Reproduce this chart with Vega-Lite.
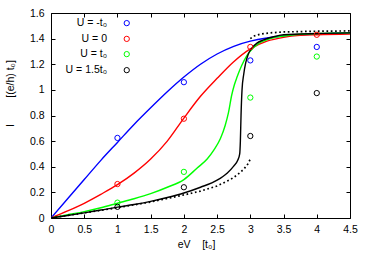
{
  "$schema": "https://vega.github.io/schema/vega-lite/v6.json",
  "width": 299,
  "height": 205,
  "autosize": {"type": "none"},
  "padding": {"left": 51, "top": 13, "right": 24, "bottom": 44},
  "config": {
    "view": {"stroke": "#000", "strokeWidth": 1},
    "font": "Liberation Sans",
    "axis": {
      "domain": false,
      "grid": false,
      "ticks": true,
      "tickSize": -4,
      "tickColor": "#000",
      "tickWidth": 1,
      "labelFont": "Liberation Sans",
      "labelFontSize": 10.5,
      "labelColor": "#000",
      "titleFont": "Liberation Sans",
      "titleFontSize": 10.5,
      "titleFontWeight": "normal",
      "titleColor": "#000",
      "labelFlush": false,
      "labelOverlap": false
    }
  },
  "datasets": {
    "lines": [
      {"s": "b", "x": 0, "y": 0}, {"s": "b", "x": 0.25, "y": 0.15}, {"s": "b", "x": 0.5, "y": 0.3}, {"s": "b", "x": 0.75, "y": 0.45}, {"s": "b", "x": 1, "y": 0.59}, {"s": "b", "x": 1.25, "y": 0.73}, {"s": "b", "x": 1.5, "y": 0.86}, {"s": "b", "x": 1.75, "y": 0.985}, {"s": "b", "x": 2, "y": 1.1}, {"s": "b", "x": 2.25, "y": 1.2}, {"s": "b", "x": 2.5, "y": 1.28}, {"s": "b", "x": 2.75, "y": 1.34}, {"s": "b", "x": 3, "y": 1.38}, {"s": "b", "x": 3.25, "y": 1.405}, {"s": "b", "x": 3.5, "y": 1.42}, {"s": "b", "x": 3.75, "y": 1.43}, {"s": "b", "x": 4, "y": 1.438}, {"s": "b", "x": 4.25, "y": 1.442}, {"s": "b", "x": 4.5, "y": 1.445},
      {"s": "r", "x": 0, "y": 0}, {"s": "r", "x": 0.25, "y": 0.055}, {"s": "r", "x": 0.5, "y": 0.115}, {"s": "r", "x": 0.75, "y": 0.185}, {"s": "r", "x": 1, "y": 0.26}, {"s": "r", "x": 1.25, "y": 0.35}, {"s": "r", "x": 1.5, "y": 0.46}, {"s": "r", "x": 1.75, "y": 0.6}, {"s": "r", "x": 2, "y": 0.78}, {"s": "r", "x": 2.25, "y": 0.95}, {"s": "r", "x": 2.5, "y": 1.09}, {"s": "r", "x": 2.75, "y": 1.22}, {"s": "r", "x": 3, "y": 1.32}, {"s": "r", "x": 3.25, "y": 1.38}, {"s": "r", "x": 3.5, "y": 1.41}, {"s": "r", "x": 3.75, "y": 1.425}, {"s": "r", "x": 4, "y": 1.43}, {"s": "r", "x": 4.5, "y": 1.435},
      {"s": "g", "x": 0, "y": 0}, {"s": "g", "x": 0.25, "y": 0.025}, {"s": "g", "x": 0.5, "y": 0.05}, {"s": "g", "x": 0.75, "y": 0.08}, {"s": "g", "x": 1, "y": 0.115}, {"s": "g", "x": 1.25, "y": 0.15}, {"s": "g", "x": 1.5, "y": 0.19}, {"s": "g", "x": 1.75, "y": 0.24}, {"s": "g", "x": 2, "y": 0.3}, {"s": "g", "x": 2.2, "y": 0.39}, {"s": "g", "x": 2.35, "y": 0.46}, {"s": "g", "x": 2.45, "y": 0.53}, {"s": "g", "x": 2.55, "y": 0.62}, {"s": "g", "x": 2.62, "y": 0.72}, {"s": "g", "x": 2.67, "y": 0.82}, {"s": "g", "x": 2.72, "y": 0.96}, {"s": "g", "x": 2.76, "y": 1.04}, {"s": "g", "x": 2.8, "y": 1.1}, {"s": "g", "x": 2.87, "y": 1.19}, {"s": "g", "x": 2.95, "y": 1.27}, {"s": "g", "x": 3.05, "y": 1.33}, {"s": "g", "x": 3.15, "y": 1.37}, {"s": "g", "x": 3.3, "y": 1.4}, {"s": "g", "x": 3.5, "y": 1.42}, {"s": "g", "x": 4, "y": 1.44}, {"s": "g", "x": 4.5, "y": 1.445},
      {"s": "k", "x": 0, "y": 0}, {"s": "k", "x": 0.25, "y": 0.02}, {"s": "k", "x": 0.5, "y": 0.04}, {"s": "k", "x": 0.75, "y": 0.062}, {"s": "k", "x": 1, "y": 0.085}, {"s": "k", "x": 1.25, "y": 0.105}, {"s": "k", "x": 1.5, "y": 0.13}, {"s": "k", "x": 1.75, "y": 0.16}, {"s": "k", "x": 2, "y": 0.195}, {"s": "k", "x": 2.25, "y": 0.24}, {"s": "k", "x": 2.5, "y": 0.295}, {"s": "k", "x": 2.65, "y": 0.35}, {"s": "k", "x": 2.75, "y": 0.405}, {"s": "k", "x": 2.81, "y": 0.45}, {"s": "k", "x": 2.84, "y": 0.5}, {"s": "k", "x": 2.85, "y": 0.6}, {"s": "k", "x": 2.86, "y": 0.8}, {"s": "k", "x": 2.875, "y": 1.0}, {"s": "k", "x": 2.9, "y": 1.12}, {"s": "k", "x": 2.93, "y": 1.21}, {"s": "k", "x": 2.97, "y": 1.28}, {"s": "k", "x": 3.03, "y": 1.33}, {"s": "k", "x": 3.1, "y": 1.365}, {"s": "k", "x": 3.2, "y": 1.39}, {"s": "k", "x": 3.35, "y": 1.415}, {"s": "k", "x": 3.5, "y": 1.43}, {"s": "k", "x": 4, "y": 1.44}, {"s": "k", "x": 4.5, "y": 1.445}
    ],
    "dots": [
      {"s": "lo", "x": 0, "y": 0}, {"s": "lo", "x": 0.5, "y": 0.04}, {"s": "lo", "x": 1, "y": 0.08}, {"s": "lo", "x": 1.5, "y": 0.125}, {"s": "lo", "x": 2, "y": 0.18}, {"s": "lo", "x": 2.25, "y": 0.21}, {"s": "lo", "x": 2.5, "y": 0.25}, {"s": "lo", "x": 2.7, "y": 0.3}, {"s": "lo", "x": 2.8, "y": 0.335}, {"s": "lo", "x": 2.9, "y": 0.38}, {"s": "lo", "x": 2.96, "y": 0.42}, {"s": "lo", "x": 3.0, "y": 0.46},
      {"s": "hi", "x": 3.0, "y": 1.4}, {"s": "hi", "x": 3.05, "y": 1.42}, {"s": "hi", "x": 3.15, "y": 1.435}, {"s": "hi", "x": 3.3, "y": 1.445}, {"s": "hi", "x": 3.5, "y": 1.452}, {"s": "hi", "x": 4, "y": 1.458}, {"s": "hi", "x": 4.5, "y": 1.46}
    ],
    "pts": [
      {"s": "b", "x": 1, "y": 0.625}, {"s": "b", "x": 2, "y": 1.06}, {"s": "b", "x": 3, "y": 1.23}, {"s": "b", "x": 4, "y": 1.335},
      {"s": "r", "x": 1, "y": 0.265}, {"s": "r", "x": 2, "y": 0.775}, {"s": "r", "x": 3, "y": 1.335}, {"s": "r", "x": 4, "y": 1.43},
      {"s": "g", "x": 1, "y": 0.12}, {"s": "g", "x": 2, "y": 0.36}, {"s": "g", "x": 3, "y": 0.94}, {"s": "g", "x": 4, "y": 1.26},
      {"s": "k", "x": 1, "y": 0.087}, {"s": "k", "x": 2, "y": 0.24}, {"s": "k", "x": 3, "y": 0.64}, {"s": "k", "x": 4, "y": 0.975}
    ],
    "leg": [
      {"s": "b", "label": "U = -t₀", "x": 0.843, "lx": 1.14, "y": 1.521},
      {"s": "r", "label": "U = 0", "x": 0.843, "lx": 1.14, "y": 1.398},
      {"s": "g", "label": "U = t₀", "x": 0.843, "lx": 1.14, "y": 1.279},
      {"s": "k", "label": "U = 1.5t₀", "x": 0.843, "lx": 1.14, "y": 1.154}
    ]
  },
  "layer": [
    {
      "layer": [
        {
          "data": {"name": "lines"},
          "mark": {"type": "line", "strokeWidth": 1.4, "interpolate": "monotone", "clip": true},
          "encoding": {
            "x": {"field": "x", "type": "quantitative", "scale": {"domain": [0, 4.5], "nice": false}, "axis": null},
            "y": {"field": "y", "type": "quantitative", "scale": {"domain": [0, 1.6], "nice": false}, "axis": null},
            "color": {"field": "s", "type": "nominal", "scale": {"domain": ["b", "r", "g", "k"], "range": ["#0000ff", "#ff0000", "#00ff00", "#000000"]}, "legend": null},
            "order": {"field": "x", "type": "quantitative"}
          }
        },
        {
          "data": {"name": "dots"},
          "mark": {"type": "line", "color": "#000", "strokeWidth": 1.7, "strokeDash": [1.7, 2.6], "clip": true},
          "encoding": {
            "x": {"field": "x", "type": "quantitative", "axis": null},
            "y": {"field": "y", "type": "quantitative", "axis": null},
            "detail": {"field": "s", "type": "nominal"},
            "order": {"field": "x", "type": "quantitative"}
          }
        },
        {
          "data": {"name": "pts"},
          "mark": {"type": "point", "shape": "circle", "filled": false, "size": 28, "strokeWidth": 1, "opacity": 1},
          "encoding": {
            "x": {"field": "x", "type": "quantitative", "axis": null},
            "y": {"field": "y", "type": "quantitative", "axis": null},
            "color": {"field": "s", "type": "nominal", "legend": null}
          }
        },
        {
          "data": {"name": "leg"},
          "mark": {"type": "text", "align": "right", "baseline": "middle", "fontSize": 10.5, "font": "Liberation Sans", "color": "#000"},
          "encoding": {
            "x": {"field": "x", "type": "quantitative", "axis": null},
            "y": {"field": "y", "type": "quantitative", "axis": null},
            "text": {"field": "label"}
          }
        },
        {
          "data": {"name": "leg"},
          "mark": {"type": "point", "shape": "circle", "filled": false, "size": 28, "strokeWidth": 1, "opacity": 1},
          "encoding": {
            "x": {"field": "lx", "type": "quantitative", "axis": null},
            "y": {"field": "y", "type": "quantitative", "axis": null},
            "color": {"field": "s", "type": "nominal", "legend": null}
          }
        }
      ]
    },
    {
      "data": {"name": "pts"},
      "mark": {"type": "point", "opacity": 0},
      "encoding": {
        "x": {"field": "x", "type": "quantitative",
          "axis": {"orient": "bottom", "values": [0, 0.5, 1, 1.5, 2, 2.5, 3, 3.5, 4, 4.5], "format": "~g", "labelPadding": 10,
            "title": "eV\u00a0\u00a0\u00a0\u00a0[t₀]", "titleX": 145, "titleY": 26, "titleBaseline": "middle", "titleAlign": "center"}},
        "y": {"field": "y", "type": "quantitative",
          "axis": {"orient": "left", "values": [0, 0.2, 0.4, 0.6, 0.8, 1, 1.2, 1.4, 1.6], "format": "~g", "labelPadding": 11,
            "title": "I\u00a0\u00a0\u00a0\u00a0\u00a0\u00a0\u00a0\u00a0\u00a0[(e/h) t₀]", "titleX": -41, "titleY": 80, "titleAngle": -90, "titleBaseline": "middle", "titleAlign": "center"}}
      }
    },
    {
      "data": {"name": "pts"},
      "mark": {"type": "point", "opacity": 0},
      "encoding": {
        "x": {"field": "x", "type": "quantitative",
          "axis": {"orient": "top", "values": [0, 0.5, 1, 1.5, 2, 2.5, 3, 3.5, 4, 4.5], "labels": false, "title": null}},
        "y": {"field": "y", "type": "quantitative",
          "axis": {"orient": "right", "values": [0, 0.2, 0.4, 0.6, 0.8, 1, 1.2, 1.4, 1.6], "labels": false, "title": null}}
      }
    }
  ],
  "resolve": {"axis": {"x": "independent", "y": "independent"}}
}
